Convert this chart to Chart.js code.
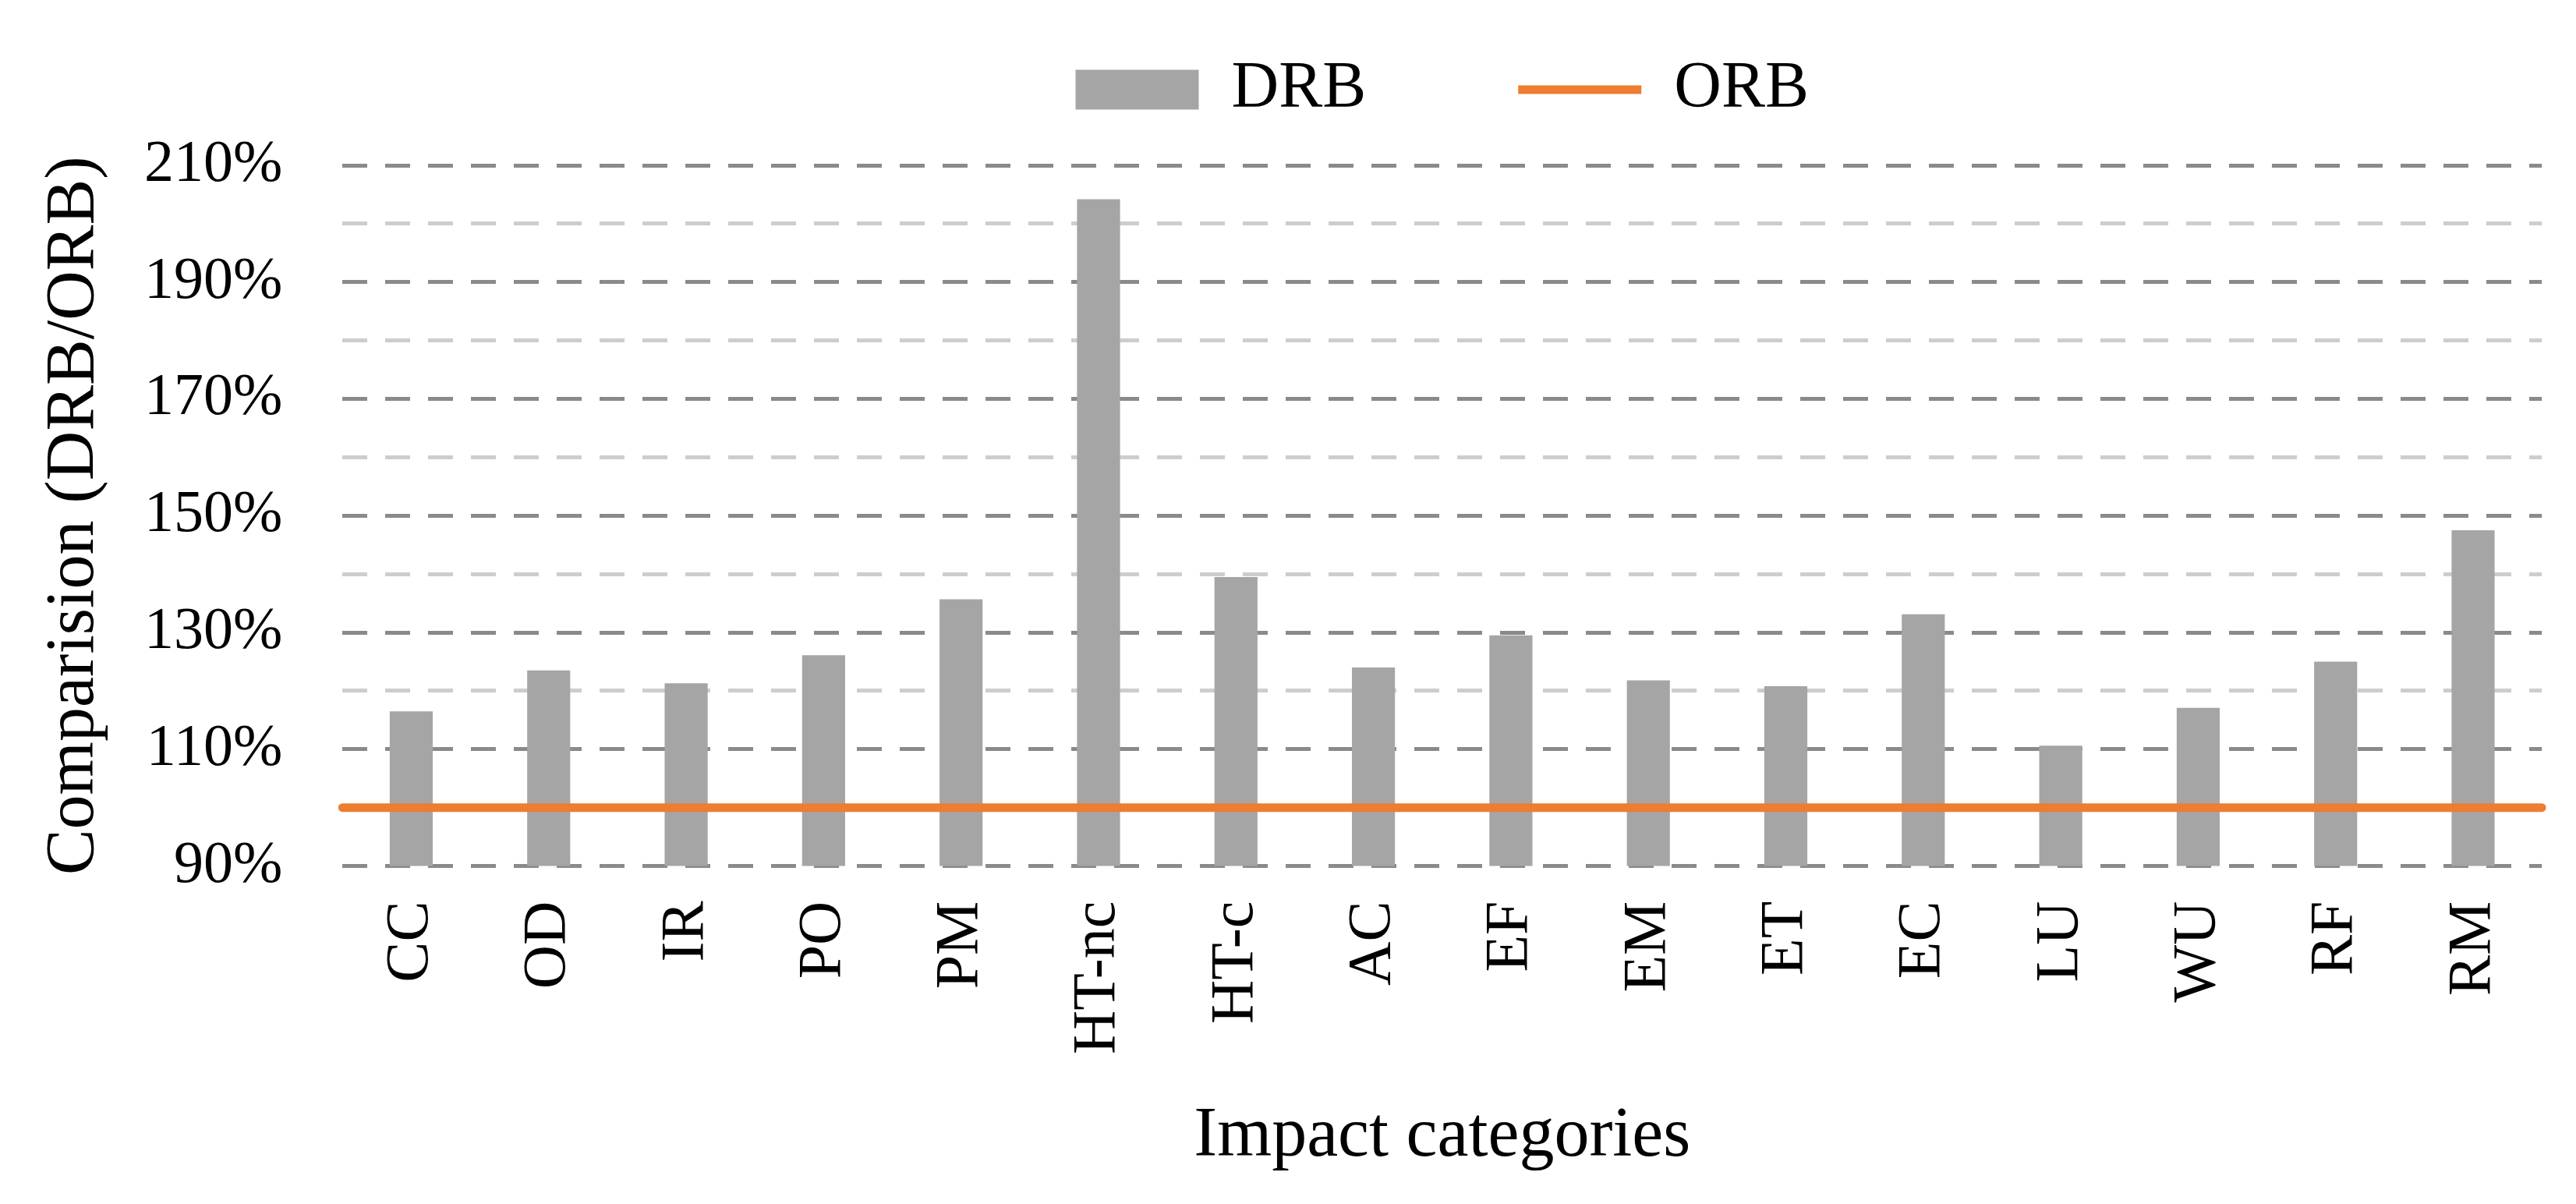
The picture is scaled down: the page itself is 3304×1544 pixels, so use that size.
<!DOCTYPE html>
<html>
<head>
<meta charset="utf-8">
<script src="https://cdn.jsdelivr.net/npm/chart.js@4/dist/chart.umd.min.js"></script>
<style>
  html, body { margin: 0; padding: 0; background: #fff; }
  #wrap { width: 3304px; height: 1544px; position: relative; }
</style>
</head>
<body>
<div id="wrap"><canvas id="impactChart"></canvas></div>
<script>
// Impact categories on the x axis
const categories = ['CC', 'OD', 'IR', 'PO', 'PM', 'HT-nc', 'HT-c', 'AC', 'EF', 'EM', 'ET', 'EC', 'LU', 'WU', 'RF', 'RM'];
// DRB relative to ORB (%)
const drbValues = [116.5, 123.5, 121.3, 126.1, 135.7, 204.2, 139.5, 124.0, 129.5, 121.8, 120.8, 133.1, 110.6, 117.1, 125.0, 147.5];
// ORB reference (always 100%)
const orbValues = [100, 100, 100, 100, 100, 100, 100, 100, 100, 100, 100, 100, 100, 100, 100, 100];
// y tick labels that are printed (the others are minor lines)
const labeledTicks = [90, 110, 130, 150, 170, 190, 210];

const serif = "'Liberation Serif', 'Times New Roman', serif";

// legend items sit far apart, but the legend box itself should stay short
const legendHeight = {
  id: 'legendHeight',
  beforeLayout(chart) {
    const lg = chart.legend;
    if (!lg || lg._wrapped) return;
    const fit = lg.fit;
    lg.fit = function () {
      fit.call(this);
      this.height = 334;
    };
    lg._wrapped = true;
  }
};

const ctx = document.getElementById('impactChart').getContext('2d');
const impactChart = new Chart(ctx, {
  data: {
    labels: categories,
    datasets: [{
      type: 'bar',
      label: 'DRB',
      data: drbValues,
      backgroundColor: '#a5a5a5',
      borderWidth: 0,
      grouped: false,
      barPercentage: 0.313,
      categoryPercentage: 1,
      pointStyle: 'rect',
      order: 1
    }, {
      type: 'line',
      label: 'ORB',
      data: orbValues,
      xAxisID: 'x2',
      borderColor: '#ed7d31',
      backgroundColor: '#ed7d31',
      borderWidth: 11,
      borderCapStyle: 'round',
      pointRadius: 0,
      pointStyle: 'line',
      fill: false,
      order: 0
    }]
  },
  options: {
    responsive: true,
    maintainAspectRatio: false,
    animation: false,
    layout: {
      padding: { top: -122, left: 52, right: 18, bottom: 32 }
    },
    plugins: {
      tooltip: { enabled: false },
      legend: {
        position: 'top',
        fullSize: false,
        labels: {
          usePointStyle: true,
          pointStyleWidth: 158,
          boxHeight: 51,
          padding: 195,
          color: '#000',
          font: { family: serif, size: 84 },
          sort: (a, b) => a.datasetIndex - b.datasetIndex
        }
      }
    },
    scales: {
      x: {
        grid: { display: false },
        border: { display: false },
        ticks: {
          minRotation: 90,
          maxRotation: 90,
          padding: 37,
          color: '#000',
          font: { family: serif, size: 78 }
        },
        title: {
          display: true,
          text: 'Impact categories',
          color: '#000',
          font: { family: serif, size: 90 },
          padding: { top: 15, bottom: 0 }
        }
      },
      x2: {
        type: 'category',
        labels: categories,
        offset: false,
        display: false
      },
      y: {
        min: 90,
        max: 210,
        border: { display: false, dash: [32, 23] },
        grid: {
          drawTicks: false,
          lineWidth: 5,
          color: c => labeledTicks.includes(c.tick.value) ? '#8a8a8a' : '#cdcdcd'
        },
        ticks: {
          stepSize: 10,
          autoSkip: false,
          padding: 77,
          color: '#000',
          font: { family: serif, size: 76 },
          callback: v => labeledTicks.includes(v) ? v + '%' : ''
        },
        title: {
          display: true,
          text: 'Comparision (DRB/ORB)',
          color: '#000',
          font: { family: serif, size: 88, lineHeight: 1 },
          padding: { top: 0, bottom: -32 }
        }
      }
    }
  },
  plugins: [legendHeight]
});
</script>
</body>
</html>
